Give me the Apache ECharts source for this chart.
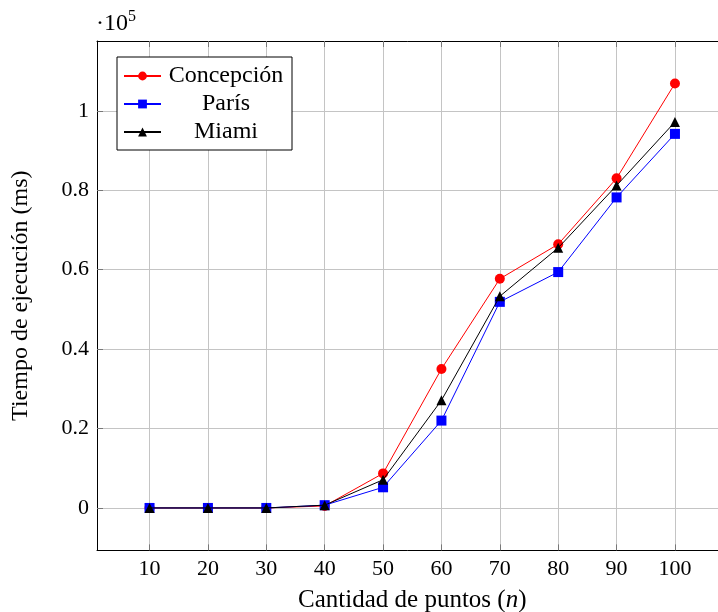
<!DOCTYPE html>
<html>
<head>
<meta charset="utf-8">
<script src="https://cdn.jsdelivr.net/npm/echarts@6/dist/echarts.min.js"></script>
<style>html,body{margin:0;padding:0;background:#fff}#c{width:718px;height:612px}</style>
</head>
<body>
<div id="c"></div>
<script>
const categories = [10, 20, 30, 40, 50, 60, 70, 80, 90, 100];
const concepcion = [0, 0, 0, 500, 8700, 35000, 57700, 66400, 83000, 106900];
const paris = [0, 0, 0, 700, 5200, 22000, 51900, 59400, 78200, 94200];
const miami = [0, 0, 0, 700, 7100, 27100, 53300, 65500, 81200, 97200];
const xTicks = [10, 20, 30, 40, 50, 60, 70, 80, 90, 100];
const yTicks = [0, 20000, 40000, 60000, 80000, 100000];

const FONT = 'Liberation Serif';
const pair = arr => categories.map((c, i) => [c, arr[i]]);

const chart = echarts.init(document.getElementById('c'), null, {renderer: 'canvas'});
const gridCol = '#c4c4c4';
const tickStyle = {show: true, inside: true, length: 6, lineStyle: {color: '#777', width: 1}};

chart.setOption({
  animation: false,
  backgroundColor: '#fff',
  textStyle: {fontFamily: FONT},
  grid: {left: 97, top: 41, right: -9.5, bottom: 61.6, containLabel: false, outerBoundsMode: 'none'},
  graphic: [
    {type: 'text', left: 96, top: 12, style: {text: '·10', font: '24px "Liberation Serif"', fill: '#000'}},
    {type: 'text', left: 128, top: 9, style: {text: '5', font: '16px "Liberation Serif"', fill: '#000'}}
  ],
  legend: {
    orient: 'vertical', left: 117, top: 57,
    borderColor: '#000', borderWidth: 1, borderRadius: 0,
    backgroundColor: '#fff',
    padding: [7, 6, 6, 6],
    itemWidth: 37, itemHeight: 11, itemGap: 4,
    data: ['Concepción', 'París', 'Miami'],
    formatter: n => '{c|' + n + '}',
    textStyle: {
      fontFamily: FONT, fontSize: 24, color: '#000',
      rich: {c: {width: 120, align: 'center', fontFamily: FONT, fontSize: 24, color: '#000', lineHeight: 24}}
    }
  },
  xAxis: [{
    type: 'value', min: 1, max: 109,
    name: '{r|Cantidad de puntos (}{i|n}{r|)}',
    nameLocation: 'middle', nameGap: 38,
    nameTextStyle: {rich: {
      r: {fontFamily: FONT, fontSize: 25, color: '#000'},
      i: {fontFamily: FONT, fontSize: 25, fontStyle: 'italic', color: '#000'}
    }},
    axisLine: {show: true, onZero: false, lineStyle: {color: '#000', width: 1}},
    axisTick: Object.assign({customValues: xTicks}, tickStyle),
    axisLabel: {customValues: xTicks, fontFamily: FONT, fontSize: 22, color: '#000', margin: 8},
    splitLine: {show: true, lineStyle: {color: gridCol, width: 1}}
  }, {
    type: 'value', min: 1, max: 109, position: 'top',
    axisLine: {show: true, onZero: false, lineStyle: {color: '#000', width: 1}},
    axisTick: Object.assign({customValues: xTicks}, tickStyle),
    axisLabel: {show: false, customValues: xTicks},
    splitLine: {show: false}
  }],
  yAxis: [{
    type: 'value', min: -10690, max: 117590,
    name: 'Tiempo de ejecución (ms)',
    nameLocation: 'middle', nameGap: 64, nameRotate: 90,
    nameTextStyle: {fontFamily: FONT, fontSize: 24, color: '#000'},
    axisLine: {show: true, onZero: false, lineStyle: {color: '#000', width: 1}},
    axisTick: Object.assign({customValues: yTicks}, tickStyle),
    axisLabel: {customValues: yTicks, fontFamily: FONT, fontSize: 22, color: '#000', margin: 8,
      formatter: v => String(+(v / 1e5).toFixed(1))},
    splitLine: {show: true, lineStyle: {color: gridCol, width: 1}}
  }],
  series: [
    {name: 'Concepción', type: 'line', data: pair(concepcion), symbol: 'circle', symbolSize: 10,
     itemStyle: {color: '#ff0000'}, lineStyle: {color: '#ff0000', width: 1}, z: 2},
    {name: 'París', type: 'line', data: pair(paris), symbol: 'rect', symbolSize: 10,
     itemStyle: {color: '#0000ff'}, lineStyle: {color: '#0000ff', width: 1}, z: 3},
    {name: 'Miami', type: 'line', data: pair(miami), symbol: 'triangle', symbolSize: 10,
     itemStyle: {color: '#000'}, lineStyle: {color: '#000', width: 1}, z: 4}
  ]
});
</script>
</body>
</html>
